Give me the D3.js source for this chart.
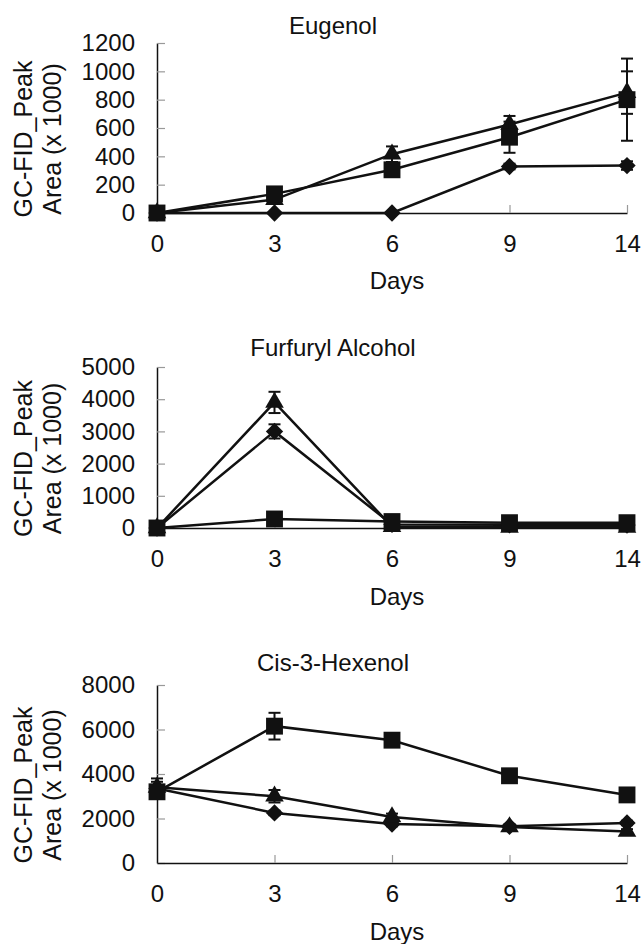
<!DOCTYPE html>
<html>
<head>
<meta charset="utf-8">
<script src="https://cdn.jsdelivr.net/npm/d3@7"></script>
<style>
  body { margin: 0; background: #fff; }
  svg { display: block; font-family: "Liberation Sans", Arial, sans-serif; }
</style>
</head>
<body>
<svg id="chart" width="644" height="944"></svg>
<script>
// sampling days (plotted evenly spaced)
const days = ['0', '3', '6', '9', '14'];

// Eugenol
const eugenolTicks = [0, 200, 400, 600, 800, 1000, 1200];
const eugenolDiamond = [0, 0, 0, 328, 335];
const eugenolDiamondErr = [0, 0, 0, 20, 30];
const eugenolTriangle = [0, 95, 415, 625, 850];
const eugenolTriangleErr = [0, 15, 55, 60, 150];
const eugenolSquare = [0, 135, 305, 535, 800];
const eugenolSquareErr = [0, 20, 20, 110, 290];

// Furfuryl Alcohol
const furfurylTicks = [0, 1000, 2000, 3000, 4000, 5000];
const furfurylDiamond = [0, 3000, 110, 100, 90];
const furfurylDiamondErr = [0, 220, 20, 10, 10];
const furfurylTriangle = [0, 3900, 40, 20, 20];
const furfurylTriangleErr = [0, 330, 10, 10, 10];
const furfurylSquare = [0, 280, 200, 165, 165];
const furfurylSquareErr = [0, 30, 20, 20, 20];

// Cis-3-Hexenol
const hexenolTicks = [0, 2000, 4000, 6000, 8000];
const hexenolDiamond = [3350, 2250, 1750, 1650, 1800];
const hexenolDiamondErr = [300, 100, 100, 80, 100];
const hexenolTriangle = [3400, 3000, 2070, 1620, 1420];
const hexenolTriangleErr = [400, 280, 150, 100, 100];
const hexenolSquare = [3200, 6150, 5520, 3920, 3060];
const hexenolSquareErr = [300, 600, 250, 100, 100];

const svg = d3.select('#chart');
const ink = '#111';

const x = d3.scalePoint().domain(days).range([157, 627]);

// diamond drawn as a square turned 45 degrees
const diamondSym = {
  draw(ctx, size) {
    const r = Math.sqrt(size) / 2;
    ctx.moveTo(0, -r); ctx.lineTo(r, 0); ctx.lineTo(0, r); ctx.lineTo(-r, 0); ctx.closePath();
  }
};

const panels = [
  { title: 'Eugenol', top: 43, zero: 213, ticks: eugenolTicks, titleY: 34, daysY: 289,
    series: [
      { sym: diamondSym, size: 300, v: eugenolDiamond, e: eugenolDiamondErr },
      { sym: d3.symbolTriangle, size: 150, v: eugenolTriangle, e: eugenolTriangleErr },
      { sym: d3.symbolSquare, size: 285, v: eugenolSquare, e: eugenolSquareErr }
    ] },
  { title: 'Furfuryl Alcohol', top: 367, zero: 528, ticks: furfurylTicks, titleY: 356, daysY: 605,
    series: [
      { sym: diamondSym, size: 300, v: furfurylDiamond, e: furfurylDiamondErr },
      { sym: d3.symbolTriangle, size: 150, v: furfurylTriangle, e: furfurylTriangleErr },
      { sym: d3.symbolSquare, size: 285, v: furfurylSquare, e: furfurylSquareErr }
    ] },
  { title: 'Cis-3-Hexenol', top: 685, zero: 863, ticks: hexenolTicks, titleY: 671, daysY: 940,
    series: [
      { sym: diamondSym, size: 300, v: hexenolDiamond, e: hexenolDiamondErr },
      { sym: d3.symbolTriangle, size: 150, v: hexenolTriangle, e: hexenolTriangleErr },
      { sym: d3.symbolSquare, size: 285, v: hexenolSquare, e: hexenolSquareErr }
    ] }
];

panels.forEach(p => {
  const g = svg.append('g');
  const y = d3.scaleLinear()
      .domain([0, d3.max(p.ticks)])
      .range([p.zero, p.top]);

  // y axis
  const yAxis = g.append('g')
      .attr('transform', `translate(${x(days[0])},0)`)
      .call(d3.axisLeft(y).tickValues(p.ticks).tickFormat(d3.format('d'))
        .tickSizeInner(-8).tickSizeOuter(0).tickPadding(22));
  yAxis.select('.domain').attr('stroke', ink).attr('stroke-width', 1.5);
  yAxis.selectAll('.tick line').attr('stroke', '#999').attr('stroke-width', 1.2);
  yAxis.selectAll('.tick text').attr('fill', ink).style('font-size', '24px');

  // x axis
  const xAxis = g.append('g')
      .attr('transform', `translate(0,${p.zero})`)
      .call(d3.axisBottom(x).tickSizeInner(-8).tickSizeOuter(0).tickPadding(22));
  xAxis.select('.domain').attr('stroke', ink).attr('stroke-width', 1.5);
  xAxis.selectAll('.tick line').attr('stroke', '#999').attr('stroke-width', 1.2)
      .filter(d => d === days[0]).remove();
  xAxis.selectAll('.tick text').attr('fill', ink).style('font-size', '24px');

  // titles
  g.append('text')
      .attr('x', 333).attr('y', p.titleY)
      .attr('text-anchor', 'middle')
      .style('font-size', '24px').attr('fill', ink)
      .text(p.title);
  g.append('text')
      .attr('x', 397).attr('y', p.daysY)
      .attr('text-anchor', 'middle')
      .style('font-size', '24px').attr('fill', ink)
      .text('Days');

  const cy = (p.top + p.zero) / 2 + 11;
  [['GC-FID_Peak', 32], ['Area (x 1000)', 61]].forEach(([t, bx]) => {
    g.append('text')
        .attr('transform', `translate(${bx},${cy}) rotate(-90)`)
        .attr('text-anchor', 'middle')
        .style('font-size', '25px').attr('fill', ink)
        .text(t);
  });

  const line = d3.line()
      .x((d, i) => x(days[i]))
      .y(d => y(d));

  p.series.forEach(s => {
    const pts = s.v.map((v, i) => ({ day: days[i], v: v, e: s.e[i] }));

    // error bars
    const eb = g.append('g').attr('stroke', ink).attr('stroke-width', 2);
    pts.filter(d => d.e > 0).forEach(d => {
      const cx = x(d.day);
      eb.append('line').attr('x1', cx).attr('x2', cx).attr('y1', y(d.v + d.e)).attr('y2', y(d.v - d.e));
      eb.append('line').attr('x1', cx - 6).attr('x2', cx + 6).attr('y1', y(d.v + d.e)).attr('y2', y(d.v + d.e));
      eb.append('line').attr('x1', cx - 6).attr('x2', cx + 6).attr('y1', y(d.v - d.e)).attr('y2', y(d.v - d.e));
    });

    g.append('path')
        .datum(s.v)
        .attr('d', line)
        .attr('fill', 'none')
        .attr('stroke', ink)
        .attr('stroke-width', 2.5);

    g.selectAll(null)
        .data(pts)
      .enter().append('path')
        .attr('transform', d => `translate(${x(d.day)},${y(d.v)})`)
        .attr('d', d3.symbol().type(s.sym).size(s.size))
        .attr('fill', ink);
  });
});
</script>
</body>
</html>
